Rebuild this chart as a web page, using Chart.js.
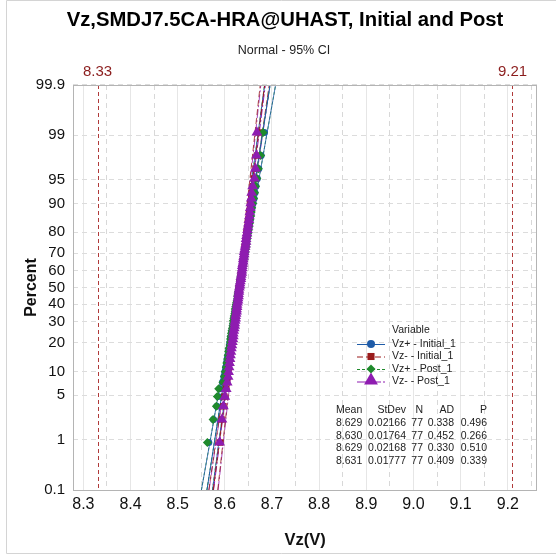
<!DOCTYPE html>
<html>
<head>
<meta charset="utf-8">
<title>Vz probability plot</title>
<script src="https://cdn.jsdelivr.net/npm/chart.js@4.4.1/dist/chart.umd.min.js"></script>
<style>
  html, body { margin: 0; padding: 0; background: #fff; }
  #wrap { position: relative; width: 556px; height: 556px; }
</style>
</head>
<body>
<div id="wrap"><canvas id="probChart" width="556" height="556"></canvas></div>
<script>
// plotting positions (percent) for the 77 ranked points of every series
const pct = [0.9, 2.2, 3.5, 4.8, 6.1, 7.4, 8.7, 9.9, 11.2, 12.5, 13.8, 15.1, 16.4, 17.7, 19.0, 20.3,
    21.6, 22.9, 24.2, 25.5, 26.7, 28.0, 29.3, 30.6, 31.9, 33.2, 34.5, 35.8, 37.1, 38.4, 39.7, 41.0,
    42.2, 43.5, 44.8, 46.1, 47.4, 48.7, 50.0, 51.3, 52.6, 53.9, 55.2, 56.5, 57.8, 59.0, 60.3, 61.6,
    62.9, 64.2, 65.5, 66.8, 68.1, 69.4, 70.7, 72.0, 73.3, 74.5, 75.8, 77.1, 78.4, 79.7, 81.0, 82.3,
    83.6, 84.9, 86.2, 87.5, 88.8, 90.1, 91.3, 92.6, 93.9, 95.2, 96.5, 97.8, 99.1];

// sorted Vz readings (V)
const vzPlusInitial = [8.566, 8.576, 8.583, 8.586, 8.589, 8.595, 8.598, 8.600, 8.602, 8.604,
    8.605, 8.607, 8.608, 8.609, 8.610, 8.611, 8.612, 8.613, 8.614, 8.615, 8.616, 8.617, 8.618,
    8.619, 8.620, 8.620, 8.621, 8.622, 8.623, 8.624, 8.624, 8.625, 8.626, 8.627, 8.628, 8.628,
    8.629, 8.630, 8.630, 8.631, 8.632, 8.633, 8.633, 8.634, 8.635, 8.636, 8.636, 8.637, 8.638,
    8.639, 8.639, 8.640, 8.641, 8.642, 8.643, 8.644, 8.644, 8.645, 8.646, 8.647, 8.648, 8.649,
    8.650, 8.651, 8.652, 8.654, 8.655, 8.656, 8.658, 8.660, 8.662, 8.664, 8.666, 8.669, 8.672,
    8.677, 8.684];
const vzMinusInitial = [8.590, 8.593, 8.597, 8.599, 8.602, 8.604, 8.606, 8.607, 8.608, 8.609,
    8.610, 8.611, 8.612, 8.613, 8.614, 8.615, 8.616, 8.617, 8.617, 8.618, 8.619, 8.620, 8.620,
    8.621, 8.622, 8.622, 8.623, 8.624, 8.624, 8.625, 8.625, 8.626, 8.627, 8.627, 8.628, 8.628,
    8.629, 8.629, 8.630, 8.631, 8.631, 8.632, 8.633, 8.633, 8.634, 8.635, 8.635, 8.636, 8.637,
    8.637, 8.638, 8.639, 8.639, 8.640, 8.641, 8.642, 8.642, 8.643, 8.644, 8.645, 8.646, 8.646,
    8.647, 8.648, 8.649, 8.650, 8.651, 8.652, 8.654, 8.655, 8.656, 8.658, 8.660, 8.662, 8.665,
    8.668, 8.672];
const vzPlusPost = [8.563, 8.575, 8.582, 8.584, 8.587, 8.596, 8.599, 8.601, 8.603, 8.604,
    8.606, 8.607, 8.608, 8.609, 8.611, 8.612, 8.612, 8.613, 8.614, 8.615, 8.616, 8.617, 8.618,
    8.618, 8.619, 8.620, 8.621, 8.622, 8.622, 8.623, 8.624, 8.625, 8.626, 8.627, 8.627, 8.628,
    8.629, 8.630, 8.631, 8.632, 8.632, 8.633, 8.634, 8.634, 8.635, 8.636, 8.637, 8.637, 8.638,
    8.639, 8.640, 8.640, 8.641, 8.642, 8.643, 8.644, 8.645, 8.645, 8.646, 8.647, 8.648, 8.649,
    8.650, 8.651, 8.652, 8.653, 8.655, 8.656, 8.657, 8.659, 8.661, 8.663, 8.665, 8.668, 8.671,
    8.676, 8.681];
const vzMinusPost = [8.589, 8.594, 8.597, 8.600, 8.603, 8.605, 8.607, 8.608, 8.609, 8.610,
    8.611, 8.612, 8.613, 8.614, 8.615, 8.616, 8.617, 8.618, 8.618, 8.619, 8.620, 8.621, 8.621,
    8.622, 8.623, 8.623, 8.624, 8.625, 8.625, 8.626, 8.626, 8.627, 8.628, 8.628, 8.629, 8.629,
    8.630, 8.630, 8.631, 8.632, 8.632, 8.633, 8.634, 8.634, 8.635, 8.636, 8.636, 8.637, 8.637,
    8.638, 8.639, 8.639, 8.640, 8.641, 8.641, 8.642, 8.643, 8.644, 8.645, 8.645, 8.646, 8.647,
    8.648, 8.649, 8.650, 8.651, 8.652, 8.653, 8.654, 8.655, 8.656, 8.657, 8.659, 8.663, 8.665,
    8.667, 8.668];

const seriesNames = ['Vz+ - Initial_1', 'Vz- - Initial_1', 'Vz+ - Post_1', 'Vz- - Post_1'];
const means = [8.629, 8.630, 8.629, 8.631];
const stDevs = [0.02166, 0.01764, 0.02168, 0.01777];
const counts = [77, 77, 77, 77];
const adStats = [0.338, 0.452, 0.330, 0.409];
const pValues = [0.496, 0.266, 0.510, 0.339];

const percentTicks = [0.1, 1, 5, 10, 20, 30, 40, 50, 60, 70, 80, 90, 95, 99, 99.9];
const xTickLabels = ['8.3', '8.4', '8.5', '8.6', '8.7', '8.8', '8.9', '9.0', '9.1', '9.2'];
const xMinorGrid = [8.35, 8.45, 8.55, 8.65, 8.75, 8.85, 8.95, 9.05, 9.15, 9.25];
const specLimits = [8.33, 9.21];

const colors = ['#1f5ca8', '#9a1b1b', '#1f8a2c', '#8e1cb0'];
const markers = ['circle', 'rect', 'rectRot', 'triangle'];
const radii = [3.5, 4.5, 4.5, 6.2];
const legendRadii = [4, 5, 4.5, 8];
const dashes = [[], [6, 3], [3, 2], [9, 2, 2, 2]];
const FONT = "'Liberation Sans', Arial, sans-serif";

// inverse normal cdf (Acklam) - turns percent into the probability-scale position
function probit(p) {
    const a = [-3.969683028665376e+01, 2.209460984245205e+02, -2.759285104469687e+02,
        1.383577518672690e+02, -3.066479806614716e+01, 2.506628277459239e+00];
    const b = [-5.447609879822406e+01, 1.615858368580409e+02, -1.556989798598866e+02,
        6.680131188771972e+01, -1.328068155288572e+01];
    const c = [-7.784894002430293e-03, -3.223964580411365e-01, -2.400758277161838e+00,
        -2.549671007076416e+00, 4.374664141464968e+00, 2.938163982698783e+00];
    const d = [7.784695709041462e-03, 3.224671290700398e-01, 2.445134137142996e+00,
        3.754408661907416e+00];
    const lo = 0.02425;
    let q, r;
    if (p < lo) {
        q = Math.sqrt(-2 * Math.log(p));
        return (((((c[0] * q + c[1]) * q + c[2]) * q + c[3]) * q + c[4]) * q + c[5]) /
            ((((d[0] * q + d[1]) * q + d[2]) * q + d[3]) * q + 1);
    }
    if (p > 1 - lo) {
        q = Math.sqrt(-2 * Math.log(1 - p));
        return -(((((c[0] * q + c[1]) * q + c[2]) * q + c[3]) * q + c[4]) * q + c[5]) /
            ((((d[0] * q + d[1]) * q + d[2]) * q + d[3]) * q + 1);
    }
    q = p - 0.5;
    r = q * q;
    return (((((a[0] * r + a[1]) * r + a[2]) * r + a[3]) * r + a[4]) * r + a[5]) * q /
        (((((b[0] * r + b[1]) * r + b[2]) * r + b[3]) * r + b[4]) * r + 1);
}

const zMin = probit(0.001);
const zMax = probit(0.999);
const seriesData = [vzPlusInitial, vzMinusInitial, vzPlusPost, vzMinusPost];
const xMajor = xTickLabels.map(Number);

const datasets = [];
seriesData.forEach((vals, s) => {
    datasets.push({
        label: seriesNames[s],
        data: vals.map((v, i) => ({ x: v, y: probit(pct[i] / 100) })),
        showLine: false,
        pointStyle: markers[s],
        pointRadius: radii[s],
        pointBackgroundColor: colors[s],
        pointBorderColor: colors[s],
        pointBorderWidth: 0,
        order: 3 - s
    });
    // fitted normal line
    datasets.push({
        data: [zMin, zMax].map(z => ({ x: means[s] + z * stDevs[s], y: z })),
        showLine: true,
        pointRadius: 0,
        borderColor: colors[s],
        borderWidth: 1,
        borderDash: dashes[s],
        order: 10
    });
    // 95% confidence bounds
    const ciZ = percentTicks.map(p => probit(p / 100));
    [-1, 1].forEach(sign => {
        datasets.push({
            data: ciZ.map(z => ({
                x: means[s] + z * stDevs[s] + sign * 1.96 * stDevs[s] *
                    Math.sqrt(1 / counts[s] + z * z / (2 * (counts[s] - 1))),
                y: z
            })),
            showLine: true,
            pointRadius: 0,
            borderColor: colors[s],
            borderWidth: 0.8,
            borderDash: dashes[s],
            order: 11
        });
    });
});

function isMajor(v) {
    return xMajor.some(m => Math.abs(m - v) < 1e-6);
}

const decorations = {
    id: 'decorations',
    beforeDatasetsDraw(chart) {
        const { ctx, chartArea, scales } = chart;
        ctx.save();
        ctx.strokeStyle = '#b03a3a';
        ctx.lineWidth = 1;
        ctx.setLineDash([4, 3]);
        specLimits.forEach(v => {
            const x = Math.round(scales.x.getPixelForValue(v)) + 0.5;
            ctx.beginPath();
            ctx.moveTo(x, chartArea.top);
            ctx.lineTo(x, chartArea.bottom);
            ctx.stroke();
        });
        ctx.restore();
    },
    afterDraw(chart) {
        const { ctx, chartArea, scales } = chart;
        ctx.save();

        // outer figure border
        ctx.strokeStyle = '#d4d4d4';
        ctx.lineWidth = 1;
        ctx.beginPath();
        ctx.moveTo(556, 0.5);
        ctx.lineTo(6.5, 0.5);
        ctx.lineTo(6.5, 553.5);
        ctx.lineTo(556, 553.5);
        ctx.stroke();

        // plot frame
        ctx.strokeStyle = '#b4b4b4';
        ctx.strokeRect(chartArea.left + 0.5, chartArea.top + 0.5,
            chartArea.right - chartArea.left - 1, chartArea.bottom - chartArea.top);

        // titles
        ctx.fillStyle = '#000';
        ctx.textAlign = 'center';
        ctx.textBaseline = 'middle';
        ctx.font = 'bold 20.3px ' + FONT;
        ctx.fillText('Vz,SMDJ7.5CA-HRA@UHAST, Initial and Post', 285, 20);
        ctx.font = '12.5px ' + FONT;
        ctx.fillStyle = '#222';
        ctx.fillText('Normal - 95% CI', 284, 51);

        // spec limit labels
        ctx.font = '15px ' + FONT;
        ctx.fillStyle = '#8b1c1c';
        specLimits.forEach(v => {
            ctx.fillText(v.toFixed(2), scales.x.getPixelForValue(v), 72);
        });

        // legend
        ctx.font = '10.5px ' + FONT;
        ctx.fillStyle = '#222';
        ctx.textAlign = 'left';
        ctx.fillText('Variable', 392, 330);
        seriesNames.forEach((name, s) => {
            const y = 344 + s * 12.5;
            ctx.strokeStyle = colors[s];
            ctx.lineWidth = 1;
            ctx.setLineDash(dashes[s]);
            ctx.beginPath();
            ctx.moveTo(357, y + 0.5);
            ctx.lineTo(385, y + 0.5);
            ctx.stroke();
            ctx.setLineDash([]);
            ctx.fillStyle = colors[s];
            Chart.helpers.drawPoint(ctx, {
                pointStyle: markers[s], radius: legendRadii[s], rotation: 0, borderWidth: 0
            }, 371, s === 3 ? y - 1 : y);
            ctx.fillStyle = '#222';
            ctx.fillText(name, 392, y);
        });

        // summary table
        const rowY = [423.5, 436, 448.5, 461];
        ctx.fillStyle = '#222';
        ctx.textAlign = 'left';
        ctx.fillText('Mean', 336, 410);
        ctx.textAlign = 'right';
        ctx.fillText('StDev', 406, 410);
        ctx.fillText('N', 423, 410);
        ctx.fillText('AD', 454, 410);
        ctx.fillText('P', 487, 410);
        means.forEach((m, s) => {
            const y = rowY[s];
            ctx.textAlign = 'left';
            ctx.fillText(m.toFixed(3), 336, y);
            ctx.textAlign = 'right';
            ctx.fillText(stDevs[s].toFixed(5), 406, y);
            ctx.fillText(String(counts[s]), 423, y);
            ctx.fillText(adStats[s].toFixed(3), 454, y);
            ctx.fillText(pValues[s].toFixed(3), 487, y);
        });
        ctx.restore();
    }
};

new Chart(document.getElementById('probChart').getContext('2d'), {
    type: 'scatter',
    data: { datasets: datasets },
    options: {
        responsive: false,
        animation: false,
        devicePixelRatio: 1,
        layout: { padding: { top: 85, right: 19, bottom: 0, left: 0 } },
        plugins: {
            legend: { display: false },
            tooltip: { enabled: false }
        },
        scales: {
            x: {
                type: 'linear',
                min: 8.278,
                max: 9.262,
                afterBuildTicks(scale) {
                    scale.ticks = xMajor.concat(xMinorGrid).sort((a, b) => a - b)
                        .map(v => ({ value: v }));
                },
                afterFit(scale) {
                    scale.height = 66;
                    scale.paddingLeft = 0;
                    scale.paddingRight = 0;
                },
                ticks: {
                    autoSkip: false,
                    maxRotation: 0,
                    padding: 5,
                    color: '#111',
                    font: { family: FONT, size: 16 },
                    callback: (v) => isMajor(v) ? xTickLabels[xMajor.findIndex(m => Math.abs(m - v) < 1e-6)] : ''
                },
                grid: {
                    drawTicks: false,
                    color: (ctx) => ctx.tick && isMajor(ctx.tick.value) ? '#e6e6e6' : '#d8d8d8',
                    lineWidth: 1
                },
                border: {
                    display: false,
                    dash: (ctx) => ctx.tick && !isMajor(ctx.tick.value) ? [5, 4] : []
                },
                title: {
                    display: true,
                    text: 'Vz(V)',
                    color: '#111',
                    font: { family: FONT, size: 16.5, weight: 'bold' },
                    padding: { top: 0, bottom: 6 }
                }
            },
            y: {
                type: 'linear',
                min: zMin,
                max: zMax,
                afterBuildTicks(scale) {
                    scale.ticks = percentTicks.map(p => ({ value: probit(p / 100) }));
                },
                afterFit(scale) {
                    scale.width = 73;
                    scale.paddingTop = 0;
                    scale.paddingBottom = 0;
                },
                ticks: {
                    padding: 8,
                    color: '#111',
                    font: { family: FONT, size: 15 },
                    callback: (v, i) => String(percentTicks[i])
                },
                grid: {
                    drawTicks: false,
                    color: '#dcdcdc',
                    lineWidth: 1
                },
                border: {
                    display: false,
                    dash: [5, 4]
                },
                title: {
                    display: true,
                    text: 'Percent',
                    color: '#111',
                    font: { family: FONT, size: 16, weight: 'bold' },
                    padding: { top: 22, bottom: 0 }
                }
            }
        }
    },
    plugins: [decorations]
});
</script>
</body>
</html>
